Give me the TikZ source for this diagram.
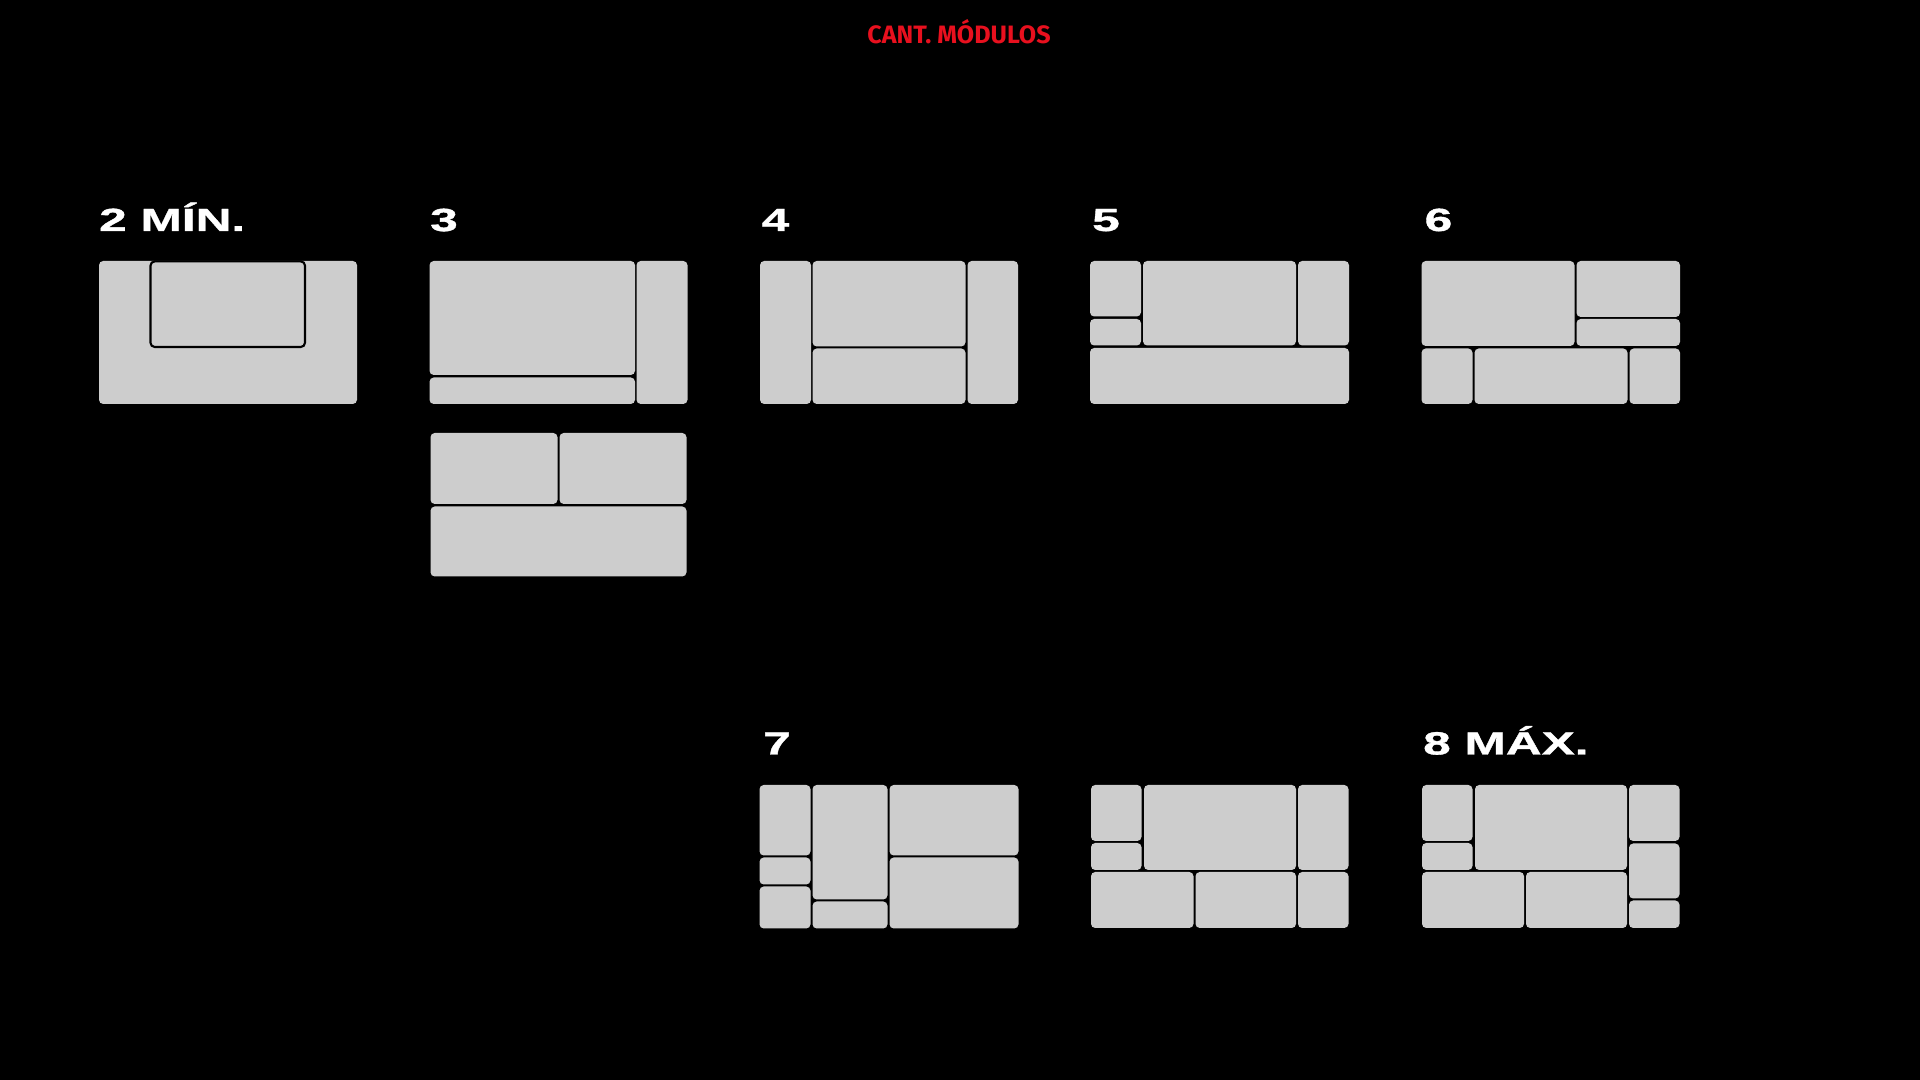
\documentclass[tikz,border=0pt]{standalone}
\usepackage{fontspec}
\usepackage{xcolor}
\usepackage{tikz}
\usetikzlibrary{positioning,calc}
\newfontfamily\anchafont[FakeStretch=1.55,FakeBold=1.2]{Liberation Sans}
\newfontfamily\titfont{Fira Sans}
\definecolor{cgris}{HTML}{CDCDCD}
\definecolor{crojo}{HTML}{E8101E}
\newcommand{\modu}[4]{\fill[mod] (#1,#2) rectangle (#3,#4);}

\begin{document}
\begin{tikzpicture}[
  x=0.01cm, y=-0.01cm,
  mod/.style={fill=cgris, rounded corners=1.2pt},
  lbl/.style={anchor=base west, inner sep=0pt, text=white, font=\anchafont\bfseries\fontsize{9.1}{11}\selectfont},
  tit/.style={anchor=base, inner sep=0pt, text=crojo, font=\titfont\bfseries\fontsize{7.15}{8}\selectfont},
]
\fill[black] (0,0) rectangle (1920,1080);
\useasboundingbox (0,0) rectangle (1920,1080);
\node[tit] (titulo) at (959,43.3) {CANT. MÓDULOS};
% ---------- 2 ----------
\node[lbl] (n2) at (98.5,231) {2 MÍN.};
\begin{scope}[shift={(99,261)}]
  \modu{0}{0}{258}{143}
  \draw[mod, draw=black, line width=0.6pt] (51.5,0.4) rectangle (206,86);
\end{scope}
% ---------- 3 ----------
\node[lbl] (n3) at (429.5,231) {3};
\begin{scope}[shift={(429.5,261)}]
  \modu{0}{0}{205.5}{114}
  \modu{0}{116.5}{205.5}{143}
  \modu{207}{0}{258}{143}
\end{scope}
\begin{scope}[shift={(430.5,433)}]
  \modu{0}{0}{127}{71}
  \modu{129}{0}{256}{71}
  \modu{0}{73.5}{256}{143.5}
\end{scope}
% ---------- 4 ----------
\node[lbl] (n4) at (761,231) {4};
\begin{scope}[shift={(760,261)}]
  \modu{0}{0}{51}{143}
  \modu{52.5}{0}{205.5}{85.5}
  \modu{52.5}{87.5}{205.5}{143}
  \modu{207.5}{0}{258}{143}
\end{scope}
% ---------- 5 ----------
\node[lbl] (n5) at (1091.5,231) {5};
\begin{scope}[shift={(1090,261)}]
  \modu{0}{0}{51}{55.5}
  \modu{0}{58}{51}{84.5}
  \modu{53}{0}{206}{84.5}
  \modu{208}{0}{259}{84.5}
  \modu{0}{87}{259}{143}
\end{scope}
% ---------- 6 ----------
\node[lbl] (n6) at (1424,231) {6};
\begin{scope}[shift={(1421.5,261)}]
  \modu{0}{0}{153}{85}
  \modu{155}{0}{258.5}{56}
  \modu{155}{58}{258.5}{85}
  \modu{0}{87.5}{51}{143}
  \modu{53}{87.5}{206}{143}
  \modu{208}{87.5}{258.5}{143}
\end{scope}
% ---------- 7 ----------
\node[lbl] (n7) at (762.5,754.5) {7};
\begin{scope}[shift={(759.5,785)}]
  \modu{0}{0}{51}{70.5}
  \modu{0}{72.5}{51}{99.5}
  \modu{0}{101.5}{51}{143.5}
  \modu{53}{0}{128}{114.5}
  \modu{53}{116.5}{128}{143.5}
  \modu{130}{0}{259}{70.5}
  \modu{130}{72.5}{259}{143.5}
\end{scope}
% ---------- 7 (variante) ----------
\begin{scope}[shift={(1091,785)}]
  \modu{0}{0}{50.5}{56}
  \modu{0}{58}{50.5}{85}
  \modu{53}{0}{205}{85}
  \modu{207}{0}{257.5}{85}
  \modu{0}{87}{102.5}{143}
  \modu{104.5}{87}{205}{143}
  \modu{207}{87}{257.5}{143}
\end{scope}
% ---------- 8 ----------
\node[lbl] (n8) at (1422.5,754.5) {8 MÁX.};
\begin{scope}[shift={(1422,785)}]
  \modu{0}{0}{50.5}{56}
  \modu{0}{58}{50.5}{85}
  \modu{53}{0}{205}{85}
  \modu{207}{0}{257.5}{56}
  \modu{207}{58.5}{257.5}{113.5}
  \modu{207}{115.5}{257.5}{143}
  \modu{0}{87}{102}{143}
  \modu{104}{87}{205}{143}
\end{scope}
\end{tikzpicture}
\end{document}
